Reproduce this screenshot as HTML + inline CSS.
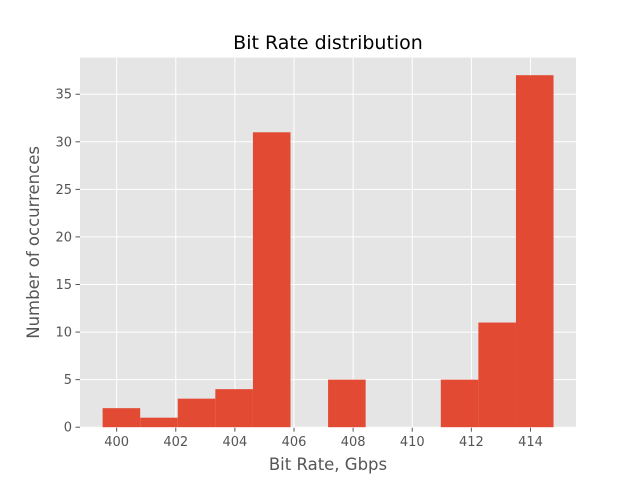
<!DOCTYPE html>
<html><head><meta charset="utf-8"><style>
html,body{margin:0;padding:0;background:#fff;}
svg{display:block;font-family:"DejaVu Sans","Liberation Sans",sans-serif;}
</style></head><body>
<svg id="chart" width="640" height="480"></svg>
<script>
const binStart = 399.525;
const binEnd = 414.78;
const counts = [2,1,3,4,31,0,5,0,0,5,11,37];
const xTicks = [400,402,404,406,408,410,412,414];
const yTicks = [0,5,10,15,20,25,30,35];
const xMin = 398.76, xMax = 415.54;
const yMax = 37*1.05;
const L=80,R=576,T=57.6,B=427.2;
const sx = v => L + (v-xMin)/(xMax-xMin)*(R-L);
const sy = v => B - v/yMax*(B-T);
const NS="http://www.w3.org/2000/svg";
const svg=document.getElementById('chart');
function mk(tag,attrs,parent){const e=document.createElementNS(NS,tag);for(const k in attrs)e.setAttribute(k,attrs[k]);(parent||svg).appendChild(e);return e;}
const bg=mk('rect',{x:L,y:T,width:R-L,height:B-T,fill:'#E5E5E5'});


xTicks.forEach(t=>{
  const g=mk('line',{x1:sx(t),x2:sx(t),y1:T,y2:B,stroke:'#fff','stroke-width':1});
  
  
  const tk=mk('line',{x1:sx(t),x2:sx(t),y1:B,y2:B+4.5,stroke:'#555','stroke-width':1});
  
  
  const tx=mk('text',{x:sx(t),y:B+19,'text-anchor':'middle','font-size':13,fill:'#555'});
  tx.textContent=t;
  
  
});
yTicks.forEach(t=>{
  const g=mk('line',{x1:L,x2:R,y1:sy(t),y2:sy(t),stroke:'#fff','stroke-width':1});
  
  
  const tk=mk('line',{x1:L-4.5,x2:L,y1:sy(t),y2:sy(t),stroke:'#555','stroke-width':1});
  
  
  const tx=mk('text',{x:L-8,y:sy(t)+4.5,'text-anchor':'end','font-size':13,fill:'#555'});
  tx.textContent=t;
  
  
});
const w=(binEnd-binStart)/counts.length;
counts.forEach((c,i)=>{
  if(c<=0)return;
  const x0=sx(binStart+i*w), x1=sx(binStart+(i+1)*w);
  const r=mk('rect',{x:x0,y:sy(c),width:x1-x0,height:sy(0)-sy(c),fill:'#E24A33'});
  
  
});
const title=mk('text',{x:(L+R)/2,y:49,'text-anchor':'middle','font-size':19,fill:'#000'});
title.textContent='Bit Rate distribution';


const xl=mk('text',{x:(L+R)/2,y:470,'text-anchor':'middle','font-size':16.5,fill:'#555'});
xl.textContent='Bit Rate, Gbps';


const yl=mk('text',{x:0,y:0,'text-anchor':'middle','font-size':16.5,fill:'#555',transform:'translate(39,'+((T+B)/2)+') rotate(-90)'});
yl.textContent='Number of occurrences';


</script>
</body></html>
